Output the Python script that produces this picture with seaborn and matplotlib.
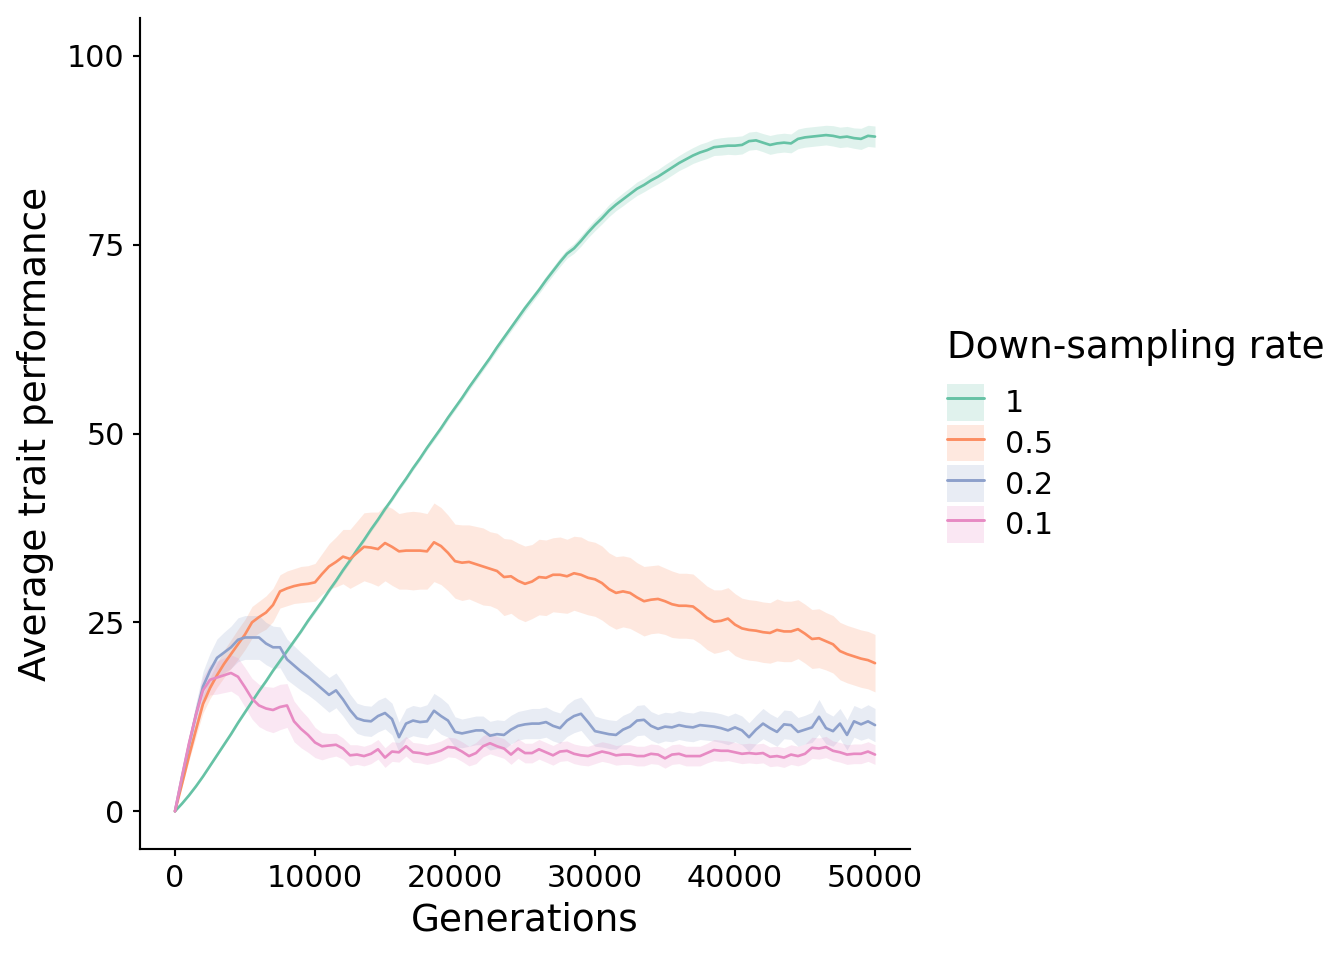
import numpy as np
import pandas as pd
import matplotlib
matplotlib.use("Agg")
import matplotlib.pyplot as plt
import seaborn as sns
from matplotlib.patches import Patch
from matplotlib.lines import Line2D
from matplotlib.legend_handler import HandlerTuple

generations = list(range(0, 50001, 500))
rates = ["1", "0.5", "0.2", "0.1"]
colors = ["#66c2a5", "#fc8d62", "#8da0cb", "#e78ac3"]

mean_1 = [0.0, 1.0, 2.1, 3.3, 4.6, 6.0, 7.4, 8.8, 10.2, 11.7, 13.1,
          14.5, 15.9, 17.2, 18.6, 19.9, 21.2, 22.5, 23.8, 25.2, 26.5,
          27.8, 29.2, 30.5, 31.9, 33.2, 34.6, 35.9, 37.3, 38.6, 40.0,
          41.3, 42.7, 44.0, 45.4, 46.7, 48.1, 49.4, 50.7, 52.1, 53.4,
          54.7, 56.1, 57.4, 58.7, 60.0, 61.4, 62.7, 64.0, 65.3, 66.6,
          67.8, 69.0, 70.3, 71.5, 72.7, 73.8, 74.5, 75.5, 76.6, 77.6,
          78.5, 79.5, 80.3, 81.0, 81.7, 82.4, 82.9, 83.5, 84.0, 84.6,
          85.2, 85.8, 86.3, 86.8, 87.2, 87.5, 87.9, 88.0, 88.1, 88.1,
          88.2, 88.7, 88.8, 88.5, 88.2, 88.4, 88.5, 88.4, 89.0, 89.2,
          89.3, 89.4, 89.5, 89.4, 89.2, 89.3, 89.1, 89.0, 89.4, 89.3]
hw_1 = [0.0, 0.05, 0.1, 0.1, 0.1, 0.15, 0.15, 0.15, 0.2, 0.2, 0.2,
        0.2, 0.2, 0.2, 0.2, 0.25, 0.25, 0.25, 0.25, 0.25, 0.3,
        0.3, 0.3, 0.3, 0.3, 0.3, 0.3, 0.3, 0.3, 0.3, 0.3,
        0.3, 0.3, 0.3, 0.3, 0.3, 0.3, 0.35, 0.35, 0.35, 0.35,
        0.35, 0.4, 0.4, 0.4, 0.4, 0.45, 0.45, 0.45, 0.5, 0.5,
        0.5, 0.5, 0.55, 0.55, 0.6, 0.6, 0.65, 0.7, 0.7, 0.75,
        0.75, 0.8, 0.8, 0.85, 0.85, 0.9, 0.9, 0.95, 0.95, 1.0,
        1.0, 1.0, 1.05, 1.05, 1.1, 1.1, 1.1, 1.15, 1.15, 1.2,
        1.2, 1.2, 1.2, 1.2, 1.25, 1.25, 1.25, 1.25, 1.3, 1.3,
        1.3, 1.3, 1.3, 1.35, 1.35, 1.35, 1.35, 1.4, 1.4, 1.4]

mean_05 = [0.0, 3.6, 7.3, 10.8, 14.2, 16.3, 18.0, 19.5, 20.8, 22.1, 23.4,
           25.0, 25.7, 26.3, 27.3, 29.1, 29.5, 29.8, 30.0, 30.1, 30.3,
           31.4, 32.4, 33.0, 33.7, 33.4, 34.2, 35.0, 34.9, 34.7, 35.5,
           35.0, 34.4, 34.5, 34.5, 34.5, 34.4, 35.6, 35.1, 34.2, 33.1,
           32.9, 33.0, 32.7, 32.4, 32.1, 31.8, 31.0, 31.1, 30.5, 30.1,
           30.4, 31.0, 30.9, 31.3, 31.3, 31.1, 31.5, 31.3, 30.9, 30.7,
           30.2, 29.4, 28.9, 29.1, 28.9, 28.3, 27.8, 28.0, 28.1, 27.8,
           27.4, 27.2, 27.2, 27.1, 26.4, 25.6, 25.1, 25.2, 25.5, 24.7,
           24.2, 24.0, 23.9, 23.7, 23.6, 24.0, 23.8, 23.8, 24.1, 23.5,
           22.8, 22.9, 22.5, 22.1, 21.2, 20.8, 20.5, 20.2, 20.0, 19.6]
hw_05 = [0.0, 0.3, 0.6, 0.9, 1.2, 1.4, 1.6, 1.8, 1.9, 2.0, 2.0,
         2.1, 2.1, 2.2, 2.2, 2.2, 2.3, 2.3, 2.4, 2.4, 2.5,
         2.7, 3.0, 3.3, 3.6, 3.9, 4.2, 4.5, 4.7, 4.9, 5.0,
         5.1, 5.0, 5.1, 5.2, 5.1, 5.0, 5.2, 5.1, 5.0, 4.9,
         5.0, 4.9, 5.0, 5.1, 4.9, 5.0, 5.1, 4.9, 5.0, 5.0,
         4.9, 5.0, 5.0, 4.9, 5.0, 4.9, 4.9, 5.0, 4.9, 4.9,
         4.9, 4.8, 4.8, 4.7, 4.7, 4.6, 4.6, 4.5, 4.5, 4.4,
         4.4, 4.3, 4.3, 4.3, 4.2, 4.2, 4.2, 4.1, 4.1, 4.1,
         4.0, 4.0, 4.0, 4.0, 4.0, 4.1, 4.0, 4.0, 3.9, 3.9,
         3.9, 3.9, 3.8, 3.8, 3.8, 3.8, 3.8, 3.8, 3.8, 3.8]

mean_02 = [0.0, 4.5, 8.8, 12.8, 16.5, 18.6, 20.3, 21.0, 21.7, 22.7, 23.0,
           23.0, 23.0, 22.2, 21.7, 21.7, 20.1, 19.3, 18.5, 17.8, 17.0,
           16.2, 15.4, 16.0, 14.8, 13.4, 12.3, 12.0, 11.9, 12.6, 13.0,
           12.2, 9.8, 11.6, 12.0, 11.8, 11.9, 13.3, 12.6, 12.0, 10.5,
           10.3, 10.5, 10.7, 10.7, 10.0, 10.2, 10.1, 10.8, 11.3, 11.5,
           11.6, 11.6, 11.8, 11.3, 11.0, 12.0, 12.6, 12.9, 11.8, 10.6,
           10.4, 10.2, 10.1, 10.8, 11.2, 12.0, 12.1, 11.3, 10.9, 11.2,
           11.1, 11.4, 11.2, 11.1, 11.4, 11.3, 11.2, 11.0, 10.7, 11.1,
           10.7, 9.8, 10.8, 11.6, 11.0, 10.5, 11.5, 11.4, 10.5, 10.8,
           11.1, 12.5, 11.0, 10.6, 11.6, 10.1, 11.9, 11.5, 11.9, 11.4]
hw_02 = [0.0, 0.5, 1.0, 1.5, 2.0, 2.3, 2.5, 2.7, 2.8, 2.9, 2.9,
         2.9, 2.9, 2.8, 2.8, 2.7, 2.7, 2.6, 2.5, 2.4, 2.3,
         2.3, 2.3, 2.3, 2.2, 2.1, 2.0, 2.0, 2.0, 2.1, 2.1,
         2.1, 2.0, 2.0, 2.0, 2.0, 2.2, 2.3, 2.4, 2.2, 2.0,
         1.9, 1.9, 1.9, 1.9, 1.9, 1.9, 1.9, 1.9, 1.9, 1.9,
         2.0, 2.0, 2.0, 2.0, 2.0, 2.1, 2.2, 2.2, 2.2, 2.0,
         1.9, 1.9, 1.9, 1.9, 1.9, 2.0, 2.0, 1.9, 1.9, 1.9,
         1.9, 1.9, 1.9, 1.9, 1.9, 1.9, 1.9, 1.9, 1.9, 1.9,
         1.9, 1.9, 1.9, 2.0, 1.9, 1.9, 1.9, 1.9, 1.9, 1.9,
         2.0, 2.3, 2.1, 2.0, 2.0, 2.0, 2.1, 2.1, 2.2, 2.2]

mean_01 = [0.0, 4.6, 9.0, 12.8, 16.0, 17.4, 17.7, 18.0, 18.3, 17.8, 16.4,
           14.9, 14.0, 13.6, 13.4, 13.8, 14.0, 11.9, 10.9, 10.1, 9.1,
           8.6, 8.7, 8.8, 8.3, 7.4, 7.5, 7.3, 7.6, 8.2, 7.1,
           7.9, 7.8, 8.6, 7.8, 7.7, 7.5, 7.7, 8.0, 8.5, 8.4,
           7.9, 7.3, 7.7, 8.6, 9.0, 8.6, 8.3, 7.5, 8.3, 7.7,
           7.7, 8.2, 7.8, 7.4, 7.9, 8.0, 7.6, 7.4, 7.3, 7.6,
           7.9, 7.7, 7.4, 7.5, 7.5, 7.3, 7.3, 7.6, 7.5, 7.0,
           7.5, 7.6, 7.3, 7.3, 7.3, 7.7, 8.1, 8.0, 8.0, 7.8,
           7.6, 7.7, 7.6, 7.7, 7.2, 7.3, 7.1, 7.5, 7.3, 7.6,
           8.4, 8.3, 8.5, 8.0, 7.8, 7.5, 7.6, 7.6, 7.9, 7.5]
hw_01 = [0.0, 0.5, 1.0, 1.4, 1.8, 2.0, 2.2, 2.3, 2.4, 2.5, 2.6,
         2.7, 2.8, 2.9, 3.0, 3.0, 2.9, 2.7, 2.5, 2.3, 2.0,
         1.8, 1.6, 1.5, 1.4, 1.4, 1.3, 1.3, 1.3, 1.3, 1.3,
         1.3, 1.3, 1.3, 1.3, 1.3, 1.3, 1.3, 1.3, 1.3, 1.3,
         1.3, 1.3, 1.4, 1.4, 1.4, 1.3, 1.3, 1.3, 1.3, 1.3,
         1.3, 1.3, 1.3, 1.3, 1.3, 1.3, 1.3, 1.3, 1.3, 1.3,
         1.3, 1.3, 1.3, 1.3, 1.3, 1.3, 1.3, 1.3, 1.3, 1.3,
         1.3, 1.3, 1.3, 1.3, 1.3, 1.3, 1.4, 1.4, 1.3, 1.3,
         1.3, 1.3, 1.3, 1.3, 1.3, 1.3, 1.3, 1.3, 1.3, 1.3,
         1.4, 1.4, 1.4, 1.3, 1.3, 1.3, 1.3, 1.3, 1.3, 1.3]

means = [mean_1, mean_05, mean_02, mean_01]
hws = [hw_1, hw_05, hw_02, hw_01]

rows = []
for r, m, h in zip(rates, means, hws):
    for g, mv, hv in zip(generations, m, h):
        rows.append({"Generations": g, "rate": r, "mean": mv,
                     "lo": mv - hv, "hi": mv + hv})
df = pd.DataFrame(rows)

sns.set_style("ticks")
plt.rcParams["font.family"] = ["DejaVu Sans"]
plt.rcParams["text.color"] = "black"
plt.rcParams["axes.labelcolor"] = "black"

fig = plt.figure(figsize=(7, 5), dpi=192)
ax = fig.add_axes([140 / 1344, 1 - 849 / 960, (910 - 140) / 1344, (849 - 18) / 960])

palette = dict(zip(rates, colors))
for r in rates:
    sub = df[df["rate"] == r]
    ax.fill_between(sub["Generations"], sub["lo"], sub["hi"],
                    color=palette[r], alpha=0.2, linewidth=0)

sns.lineplot(data=df, x="Generations", y="mean", hue="rate",
             hue_order=rates, palette=palette, linewidth=1.0,
             ax=ax, legend=False, estimator=None)

ax.set_xlim(-2500, 52500)
ax.set_ylim(-5, 105)
ax.set_xticks([0, 10000, 20000, 30000, 40000, 50000])
ax.set_yticks([0, 25, 50, 75, 100])
sns.despine(ax=ax)
for s in ["left", "bottom"]:
    ax.spines[s].set_linewidth(0.8)
    ax.spines[s].set_color("black")
ax.tick_params(axis="both", labelsize=11.3, length=2.75, width=0.8,
               pad=3.0, color="black", labelcolor="black")
ax.set_xlabel("Generations", fontsize=14, labelpad=3, color="black")
ax.set_ylabel("Average trait performance", fontsize=14, labelpad=5,
              color="black")

handles = []
for c in colors:
    handles.append((Patch(facecolor=c, alpha=0.2, edgecolor="none"),
                    Line2D([], [], color=c, linewidth=1.1)))
leg = fig.legend(handles, rates, title="Down-sampling rate",
                 handler_map={tuple: HandlerTuple(ndivide=1, pad=0)},
                 loc="center left", bbox_to_anchor=(947 / 1344, 1 - 436 / 960),
                 frameon=False, fontsize=11.3, title_fontsize=14,
                 handlelength=1.23, handleheight=1.5, labelspacing=0.13,
                 handletextpad=0.68, borderpad=0, borderaxespad=0,
                 alignment="left")
leg._legend_box.sep = 6.7
for t in leg.get_texts():
    t.set_color("black")
leg.get_title().set_color("black")

fig.savefig("out.png", dpi=192)
